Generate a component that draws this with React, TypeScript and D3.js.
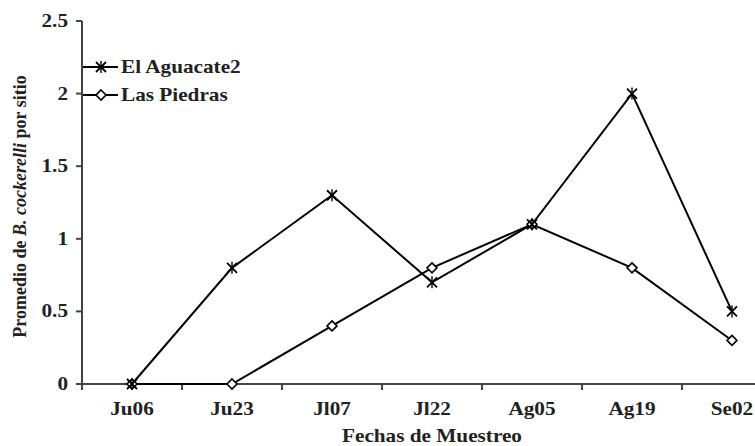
import React from "react";
import * as d3 from "d3";

const categories = ["Ju06", "Ju23", "Jl07", "Jl22", "Ag05", "Ag19", "Se02"];
const aguacate = [0, 0.8, 1.3, 0.7, 1.1, 2.0, 0.5];
const piedras = [0, 0, 0.4, 0.8, 1.1, 0.8, 0.3];
const yTicks = [0, 0.5, 1, 1.5, 2, 2.5];
const seriesNames = ["El Aguacate2", "Las Piedras"];

const W = 755;
const H = 446;
const FONT = "'Liberation Serif', 'Times New Roman', Times, serif";
const FS = 18;
const SX = 1.18;

function Star({ x, y }: { x: number; y: number }) {
  const r = 5;
  return (
    <g stroke="#000" strokeWidth={1.8}>
      <line x1={x - r} y1={y - r} x2={x + r} y2={y + r} />
      <line x1={x - r} y1={y + r} x2={x + r} y2={y - r} />
      <line x1={x} y1={y - r - 1} x2={x} y2={y + r + 1} strokeWidth={1.4} />
    </g>
  );
}

function Diamond({ x, y }: { x: number; y: number }) {
  const r = 5;
  return (
    <path
      d={`M${x},${y - r}L${x + r},${y}L${x},${y + r}L${x - r},${y}Z`}
      fill="#fff"
      stroke="#000"
      strokeWidth={1.6}
    />
  );
}

function SText({ x, y, anchor, children }: any) {
  return (
    <text
      transform={`translate(${x},${y}) scale(${SX},1)`}
      textAnchor={anchor || "start"}
      fontFamily={FONT}
      fontWeight="bold"
      fontSize={FS}
      fill="#222"
    >
      {children}
    </text>
  );
}

export default function App() {
  const x0 = 82;
  const band = 100;
  const x = d3
    .scaleBand<string>()
    .domain(categories)
    .range([x0, x0 + band * categories.length])
    .padding(0);
  const y = d3.scaleLinear().domain([0, 2.5]).range([384, 21]);
  const cx = (c: string) => (x(c) as number) + x.bandwidth() / 2;

  const line = d3
    .line<number>()
    .x((_, i) => cx(categories[i]))
    .y((d) => y(d));

  const axisColor = "#444";

  return (
    <svg
      width={W}
      height={H}
      style={{ position: "absolute", left: 0, top: 0, background: "#fff" }}
    >
      <rect width={W} height={H} fill="#fff" />
      <line x1={x0} y1={y(2.5)} x2={x0} y2={y(0) + 6} stroke={axisColor} strokeWidth={2} />
      {yTicks.map((t) => (
        <g key={t}>
          <line x1={x0 - 6} x2={x0} y1={y(t)} y2={y(t)} stroke={axisColor} strokeWidth={2} />
          <SText x={68} y={y(t) + 6} anchor="end">
            {String(t)}
          </SText>
        </g>
      ))}
      <line x1={x0 - 6} y1={y(0)} x2={W} y2={y(0)} stroke={axisColor} strokeWidth={2} />
      {categories.map((c) => (
        <line
          key={"t" + c}
          x1={(x(c) as number) + band}
          x2={(x(c) as number) + band}
          y1={y(0)}
          y2={y(0) + 6}
          stroke={axisColor}
          strokeWidth={2}
        />
      ))}
      {categories.map((c) => (
        <SText key={"l" + c} x={cx(c)} y={415} anchor="middle">
          {c}
        </SText>
      ))}
      <SText x={x0 + (band * categories.length) / 2} y={442} anchor="middle">
        Fechas de Muestreo
      </SText>
      <text
        transform={`translate(26,${(y(0) + y(2.5)) / 2 + 4}) rotate(-90)`}
        textAnchor="middle"
        fontFamily={FONT}
        fontWeight="bold"
        fontSize={FS}
        fill="#222"
      >
        Promedio de <tspan fontStyle="italic">B. cockerelli</tspan> por sitio
      </text>
      <path d={line(piedras) || ""} fill="none" stroke="#000" strokeWidth={2} />
      <path d={line(aguacate) || ""} fill="none" stroke="#000" strokeWidth={2} />
      {piedras.map((v, i) => (
        <Diamond key={"d" + i} x={cx(categories[i])} y={y(v)} />
      ))}
      {aguacate.map((v, i) => (
        <Star key={"s" + i} x={cx(categories[i])} y={y(v)} />
      ))}
      {seriesNames.map((n, i) => {
        const ly = 67 + i * 28;
        return (
          <g key={n}>
            <line x1={83} x2={118} y1={ly} y2={ly} stroke="#000" strokeWidth={2} />
            {i === 0 ? <Star x={101} y={ly} /> : <Diamond x={101} y={ly} />}
            <SText x={121} y={ly + 6}>
              {n}
            </SText>
          </g>
        );
      })}
    </svg>
  );
}
